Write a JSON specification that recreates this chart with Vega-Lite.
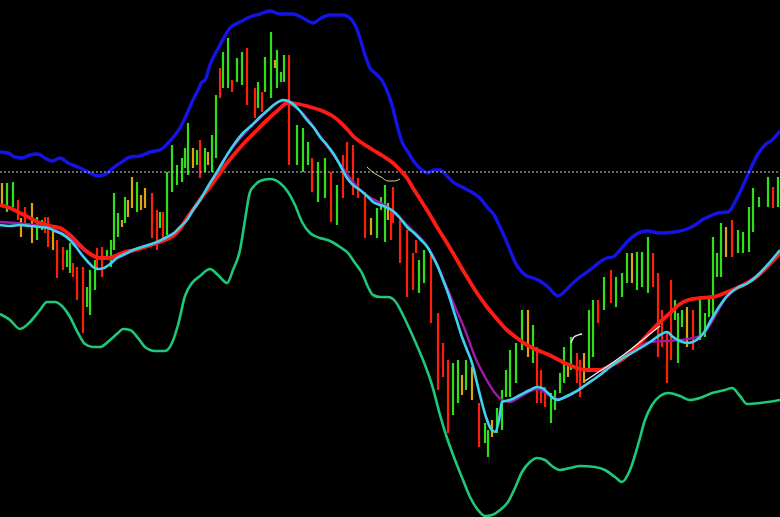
{
 "$schema": "https://vega.github.io/schema/vega-lite/v6.json",
 "width": 780, "height": 517,
 "autosize": {"type": "none"},
 "padding": 0,
 "background": "#000000",
 "config": {"view": {"stroke": null}},
 "datasets": {
  "bars": [
   {"x":2,"hi":183,"lo":207,"c":"o"},{"x":7,"hi":183,"lo":212,"c":"g"},{"x":13,"hi":182,"lo":207,"c":"g"},{"x":18,"hi":200,"lo":220,"c":"r"},
   {"x":21,"hi":218,"lo":237,"c":"o"},{"x":25,"hi":207,"lo":223,"c":"r"},{"x":32,"hi":203,"lo":243,"c":"o"},{"x":37,"hi":217,"lo":240,"c":"g"},
   {"x":42,"hi":220,"lo":230,"c":"g"},{"x":45,"hi":217,"lo":233,"c":"r"},{"x":48,"hi":217,"lo":247,"c":"r"},{"x":53,"hi":227,"lo":250,"c":"o"},
   {"x":57,"hi":240,"lo":278,"c":"r"},{"x":63,"hi":247,"lo":270,"c":"r"},{"x":67,"hi":250,"lo":267,"c":"g"},{"x":70,"hi":243,"lo":273,"c":"g"},
   {"x":73,"hi":263,"lo":277,"c":"r"},{"x":77,"hi":267,"lo":300,"c":"r"},{"x":83,"hi":267,"lo":333,"c":"r"},{"x":87,"hi":287,"lo":307,"c":"g"},
   {"x":90,"hi":270,"lo":315,"c":"g"},{"x":95,"hi":260,"lo":290,"c":"g"},{"x":97,"hi":248,"lo":270,"c":"r"},{"x":102,"hi":247,"lo":277,"c":"r"},
   {"x":107,"hi":250,"lo":257,"c":"g"},{"x":111,"hi":240,"lo":267,"c":"g"},{"x":114,"hi":193,"lo":250,"c":"g"},{"x":118,"hi":213,"lo":237,"c":"g"},
   {"x":122,"hi":220,"lo":227,"c":"o"},{"x":125,"hi":197,"lo":223,"c":"g"},{"x":128,"hi":200,"lo":217,"c":"o"},{"x":132,"hi":177,"lo":208,"c":"o"},
   {"x":137,"hi":182,"lo":212,"c":"g"},{"x":141,"hi":195,"lo":210,"c":"o"},{"x":145,"hi":188,"lo":208,"c":"o"},{"x":152,"hi":193,"lo":238,"c":"r"},
   {"x":157,"hi":210,"lo":250,"c":"r"},{"x":160,"hi":212,"lo":228,"c":"g"},{"x":163,"hi":212,"lo":238,"c":"r"},{"x":167,"hi":172,"lo":235,"c":"g"},
   {"x":172,"hi":145,"lo":192,"c":"g"},{"x":177,"hi":165,"lo":185,"c":"g"},{"x":182,"hi":158,"lo":182,"c":"g"},{"x":185,"hi":148,"lo":168,"c":"g"},
   {"x":188,"hi":123,"lo":175,"c":"g"},{"x":193,"hi":148,"lo":168,"c":"o"},{"x":197,"hi":150,"lo":165,"c":"g"},{"x":200,"hi":140,"lo":178,"c":"r"},
   {"x":205,"hi":148,"lo":172,"c":"g"},{"x":208,"hi":152,"lo":165,"c":"o"},{"x":212,"hi":135,"lo":172,"c":"g"},{"x":216,"hi":95,"lo":158,"c":"g"},
   {"x":220,"hi":68,"lo":98,"c":"r"},{"x":223,"hi":52,"lo":88,"c":"g"},{"x":228,"hi":38,"lo":88,"c":"g"},{"x":232,"hi":80,"lo":92,"c":"r"},
   {"x":237,"hi":58,"lo":82,"c":"g"},{"x":242,"hi":52,"lo":85,"c":"g"},{"x":247,"hi":48,"lo":105,"c":"r"},{"x":255,"hi":88,"lo":118,"c":"r"},
   {"x":258,"hi":82,"lo":108,"c":"g"},{"x":262,"hi":92,"lo":112,"c":"r"},{"x":265,"hi":57,"lo":92,"c":"g"},{"x":271,"hi":32,"lo":98,"c":"g"},
   {"x":275,"hi":60,"lo":68,"c":"o"},{"x":277,"hi":50,"lo":88,"c":"g"},{"x":281,"hi":72,"lo":82,"c":"g"},{"x":284,"hi":55,"lo":82,"c":"g"},
   {"x":289,"hi":55,"lo":165,"c":"r"},{"x":297,"hi":125,"lo":165,"c":"g"},{"x":303,"hi":128,"lo":172,"c":"g"},{"x":308,"hi":142,"lo":165,"c":"g"},
   {"x":312,"hi":158,"lo":192,"c":"r"},{"x":318,"hi":162,"lo":202,"c":"g"},{"x":325,"hi":158,"lo":198,"c":"g"},{"x":331,"hi":172,"lo":222,"c":"r"},
   {"x":337,"hi":185,"lo":225,"c":"g"},{"x":343,"hi":155,"lo":198,"c":"r"},{"x":347,"hi":142,"lo":172,"c":"r"},{"x":353,"hi":145,"lo":195,"c":"r"},
   {"x":358,"hi":178,"lo":198,"c":"r"},{"x":365,"hi":192,"lo":238,"c":"r"},{"x":371,"hi":218,"lo":235,"c":"o"},{"x":377,"hi":208,"lo":238,"c":"g"},
   {"x":381,"hi":197,"lo":210,"c":"g"},{"x":385,"hi":185,"lo":242,"c":"g"},{"x":388,"hi":203,"lo":220,"c":"o"},{"x":391,"hi":210,"lo":240,"c":"r"},
   {"x":393,"hi":187,"lo":223,"c":"r"},{"x":400,"hi":220,"lo":263,"c":"r"},{"x":407,"hi":230,"lo":297,"c":"r"},{"x":413,"hi":253,"lo":290,"c":"r"},
   {"x":416,"hi":240,"lo":253,"c":"r"},{"x":419,"hi":260,"lo":293,"c":"g"},{"x":424,"hi":250,"lo":283,"c":"g"},{"x":431,"hi":253,"lo":323,"c":"r"},
   {"x":438,"hi":313,"lo":390,"c":"r"},{"x":443,"hi":343,"lo":377,"c":"r"},{"x":448,"hi":360,"lo":433,"c":"r"},{"x":453,"hi":363,"lo":415,"c":"g"},
   {"x":458,"hi":360,"lo":403,"c":"g"},{"x":462,"hi":375,"lo":395,"c":"o"},{"x":466,"hi":360,"lo":390,"c":"g"},{"x":472,"hi":367,"lo":400,"c":"o"},
   {"x":479,"hi":403,"lo":447,"c":"r"},{"x":485,"hi":423,"lo":443,"c":"g"},{"x":488,"hi":430,"lo":457,"c":"g"},{"x":492,"hi":420,"lo":437,"c":"o"},
   {"x":497,"hi":408,"lo":433,"c":"g"},{"x":502,"hi":390,"lo":430,"c":"g"},{"x":506,"hi":370,"lo":397,"c":"g"},{"x":510,"hi":350,"lo":397,"c":"g"},
   {"x":516,"hi":343,"lo":383,"c":"g"},{"x":522,"hi":310,"lo":350,"c":"g"},{"x":528,"hi":310,"lo":357,"c":"o"},{"x":533,"hi":325,"lo":363,"c":"g"},
   {"x":537,"hi":347,"lo":403,"c":"r"},{"x":541,"hi":370,"lo":403,"c":"r"},{"x":545,"hi":387,"lo":407,"c":"r"},{"x":551,"hi":393,"lo":423,"c":"g"},
   {"x":555,"hi":390,"lo":410,"c":"g"},{"x":560,"hi":373,"lo":393,"c":"g"},{"x":564,"hi":347,"lo":383,"c":"g"},{"x":568,"hi":363,"lo":377,"c":"o"},
   {"x":571,"hi":337,"lo":370,"c":"g"},{"x":577,"hi":353,"lo":383,"c":"r"},{"x":580,"hi":360,"lo":397,"c":"r"},{"x":584,"hi":353,"lo":383,"c":"o"},
   {"x":589,"hi":310,"lo":370,"c":"g"},{"x":593,"hi":300,"lo":357,"c":"g"},{"x":598,"hi":300,"lo":323,"c":"r"},{"x":604,"hi":277,"lo":310,"c":"g"},
   {"x":611,"hi":270,"lo":303,"c":"r"},{"x":616,"hi":277,"lo":307,"c":"g"},{"x":622,"hi":273,"lo":297,"c":"g"},{"x":627,"hi":253,"lo":283,"c":"g"},
   {"x":632,"hi":253,"lo":283,"c":"o"},{"x":637,"hi":252,"lo":290,"c":"g"},{"x":642,"hi":252,"lo":287,"c":"g"},{"x":648,"hi":237,"lo":293,"c":"g"},
   {"x":653,"hi":253,"lo":287,"c":"r"},{"x":658,"hi":273,"lo":357,"c":"r"},{"x":662,"hi":310,"lo":347,"c":"r"},{"x":667,"hi":333,"lo":383,"c":"r"},
   {"x":671,"hi":280,"lo":360,"c":"r"},{"x":675,"hi":300,"lo":320,"c":"g"},{"x":678,"hi":313,"lo":363,"c":"g"},{"x":682,"hi":310,"lo":327,"c":"g"},
   {"x":687,"hi":307,"lo":347,"c":"o"},{"x":693,"hi":310,"lo":350,"c":"r"},{"x":700,"hi":297,"lo":340,"c":"g"},{"x":705,"hi":313,"lo":337,"c":"g"},
   {"x":709,"hi":297,"lo":317,"c":"g"},{"x":713,"hi":237,"lo":320,"c":"g"},{"x":717,"hi":253,"lo":277,"c":"g"},{"x":721,"hi":223,"lo":277,"c":"g"},
   {"x":726,"hi":227,"lo":257,"c":"o"},{"x":732,"hi":220,"lo":257,"c":"r"},{"x":738,"hi":230,"lo":253,"c":"g"},{"x":743,"hi":232,"lo":253,"c":"g"},
   {"x":749,"hi":207,"lo":252,"c":"g"},{"x":753,"hi":188,"lo":232,"c":"g"},{"x":759,"hi":197,"lo":207,"c":"g"},{"x":768,"hi":177,"lo":207,"c":"g"},
   {"x":773,"hi":187,"lo":208,"c":"r"},{"x":778,"hi":177,"lo":207,"c":"g"}
  ],
  "lines": [
   {"s":"upper","x":0,"y":152},{"s":"upper","x":8,"y":153},{"s":"upper","x":15,"y":157},{"s":"upper","x":22,"y":158},{"s":"upper","x":30,"y":155},{"s":"upper","x":38,"y":154},{"s":"upper","x":45,"y":158},{"s":"upper","x":52,"y":161},{"s":"upper","x":60,"y":158},{"s":"upper","x":68,"y":163},{"s":"upper","x":78,"y":167},{"s":"upper","x":88,"y":172},{"s":"upper","x":98,"y":176},{"s":"upper","x":106,"y":174},{"s":"upper","x":113,"y":168},{"s":"upper","x":122,"y":162},{"s":"upper","x":130,"y":157},{"s":"upper","x":140,"y":156},{"s":"upper","x":150,"y":152},{"s":"upper","x":160,"y":150},{"s":"upper","x":168,"y":143},{"s":"upper","x":175,"y":135},{"s":"upper","x":180,"y":128},{"s":"upper","x":185,"y":118},{"s":"upper","x":193,"y":100},{"s":"upper","x":198,"y":90},{"s":"upper","x":202,"y":82},{"s":"upper","x":205,"y":80},{"s":"upper","x":210,"y":65},{"s":"upper","x":220,"y":45},{"s":"upper","x":230,"y":28},{"s":"upper","x":240,"y":22},{"s":"upper","x":250,"y":17},{"s":"upper","x":260,"y":14},{"s":"upper","x":270,"y":11},{"s":"upper","x":280,"y":14},{"s":"upper","x":293,"y":14},{"s":"upper","x":303,"y":18},{"s":"upper","x":313,"y":23},{"s":"upper","x":323,"y":17},{"s":"upper","x":330,"y":15},{"s":"upper","x":343,"y":15},{"s":"upper","x":350,"y":18},{"s":"upper","x":355,"y":25},{"s":"upper","x":360,"y":38},{"s":"upper","x":365,"y":55},{"s":"upper","x":370,"y":68},{"s":"upper","x":375,"y":73},{"s":"upper","x":383,"y":82},{"s":"upper","x":388,"y":93},{"s":"upper","x":392,"y":105},{"s":"upper","x":397,"y":125},{"s":"upper","x":402,"y":142},{"s":"upper","x":408,"y":152},{"s":"upper","x":415,"y":163},{"s":"upper","x":422,"y":170},{"s":"upper","x":428,"y":173},{"s":"upper","x":434,"y":170},{"s":"upper","x":440,"y":170},{"s":"upper","x":447,"y":176},{"s":"upper","x":453,"y":182},{"s":"upper","x":462,"y":187},{"s":"upper","x":473,"y":193},{"s":"upper","x":480,"y":198},{"s":"upper","x":487,"y":207},{"s":"upper","x":494,"y":215},{"s":"upper","x":500,"y":227},{"s":"upper","x":505,"y":238},{"s":"upper","x":510,"y":250},{"s":"upper","x":515,"y":262},{"s":"upper","x":520,"y":270},{"s":"upper","x":527,"y":276},{"s":"upper","x":533,"y":278},{"s":"upper","x":540,"y":281},{"s":"upper","x":548,"y":287},{"s":"upper","x":558,"y":296},{"s":"upper","x":565,"y":291},{"s":"upper","x":572,"y":284},{"s":"upper","x":580,"y":277},{"s":"upper","x":590,"y":270},{"s":"upper","x":600,"y":262},{"s":"upper","x":607,"y":258},{"s":"upper","x":613,"y":257},{"s":"upper","x":620,"y":250},{"s":"upper","x":627,"y":242},{"s":"upper","x":635,"y":235},{"s":"upper","x":647,"y":231},{"s":"upper","x":660,"y":233},{"s":"upper","x":675,"y":232},{"s":"upper","x":687,"y":229},{"s":"upper","x":695,"y":225},{"s":"upper","x":702,"y":220},{"s":"upper","x":710,"y":216},{"s":"upper","x":718,"y":213},{"s":"upper","x":728,"y":212},{"s":"upper","x":735,"y":202},{"s":"upper","x":742,"y":188},{"s":"upper","x":750,"y":170},{"s":"upper","x":758,"y":154},{"s":"upper","x":765,"y":145},{"s":"upper","x":772,"y":140},{"s":"upper","x":780,"y":131},
   {"s":"lower","x":0,"y":314},{"s":"lower","x":10,"y":320},{"s":"lower","x":20,"y":329},{"s":"lower","x":30,"y":322},{"s":"lower","x":40,"y":310},{"s":"lower","x":47,"y":302},{"s":"lower","x":55,"y":302},{"s":"lower","x":62,"y":306},{"s":"lower","x":70,"y":317},{"s":"lower","x":78,"y":333},{"s":"lower","x":85,"y":344},{"s":"lower","x":93,"y":347},{"s":"lower","x":100,"y":347},{"s":"lower","x":110,"y":340},{"s":"lower","x":118,"y":333},{"s":"lower","x":123,"y":329},{"s":"lower","x":130,"y":330},{"s":"lower","x":138,"y":338},{"s":"lower","x":145,"y":347},{"s":"lower","x":155,"y":351},{"s":"lower","x":165,"y":351},{"s":"lower","x":172,"y":343},{"s":"lower","x":178,"y":325},{"s":"lower","x":185,"y":296},{"s":"lower","x":192,"y":283},{"s":"lower","x":200,"y":276},{"s":"lower","x":210,"y":269},{"s":"lower","x":218,"y":275},{"s":"lower","x":227,"y":283},{"s":"lower","x":233,"y":270},{"s":"lower","x":240,"y":250},{"s":"lower","x":245,"y":220},{"s":"lower","x":250,"y":192},{"s":"lower","x":255,"y":185},{"s":"lower","x":260,"y":181},{"s":"lower","x":270,"y":179},{"s":"lower","x":280,"y":183},{"s":"lower","x":288,"y":192},{"s":"lower","x":295,"y":205},{"s":"lower","x":302,"y":222},{"s":"lower","x":310,"y":233},{"s":"lower","x":320,"y":238},{"s":"lower","x":330,"y":241},{"s":"lower","x":340,"y":247},{"s":"lower","x":348,"y":253},{"s":"lower","x":355,"y":263},{"s":"lower","x":362,"y":273},{"s":"lower","x":368,"y":287},{"s":"lower","x":373,"y":295},{"s":"lower","x":380,"y":297},{"s":"lower","x":388,"y":297},{"s":"lower","x":395,"y":301},{"s":"lower","x":403,"y":315},{"s":"lower","x":410,"y":330},{"s":"lower","x":418,"y":348},{"s":"lower","x":425,"y":365},{"s":"lower","x":432,"y":385},{"s":"lower","x":440,"y":415},{"s":"lower","x":447,"y":438},{"s":"lower","x":455,"y":460},{"s":"lower","x":463,"y":480},{"s":"lower","x":470,"y":497},{"s":"lower","x":478,"y":510},{"s":"lower","x":485,"y":516},{"s":"lower","x":492,"y":515},{"s":"lower","x":500,"y":510},{"s":"lower","x":508,"y":502},{"s":"lower","x":515,"y":488},{"s":"lower","x":522,"y":472},{"s":"lower","x":530,"y":462},{"s":"lower","x":537,"y":458},{"s":"lower","x":545,"y":460},{"s":"lower","x":552,"y":466},{"s":"lower","x":560,"y":470},{"s":"lower","x":570,"y":468},{"s":"lower","x":580,"y":466},{"s":"lower","x":595,"y":467},{"s":"lower","x":605,"y":470},{"s":"lower","x":615,"y":477},{"s":"lower","x":622,"y":482},{"s":"lower","x":630,"y":470},{"s":"lower","x":638,"y":445},{"s":"lower","x":645,"y":420},{"s":"lower","x":652,"y":405},{"s":"lower","x":660,"y":396},{"s":"lower","x":668,"y":393},{"s":"lower","x":680,"y":396},{"s":"lower","x":690,"y":400},{"s":"lower","x":700,"y":398},{"s":"lower","x":712,"y":393},{"s":"lower","x":725,"y":390},{"s":"lower","x":732,"y":388},{"s":"lower","x":740,"y":396},{"s":"lower","x":747,"y":404},{"s":"lower","x":760,"y":403},{"s":"lower","x":780,"y":400},
   {"s":"slow","x":0,"y":205},{"s":"slow","x":10,"y":208},{"s":"slow","x":20,"y":213},{"s":"slow","x":30,"y":218},{"s":"slow","x":40,"y":223},{"s":"slow","x":50,"y":226},{"s":"slow","x":60,"y":228},{"s":"slow","x":70,"y":235},{"s":"slow","x":77,"y":242},{"s":"slow","x":85,"y":250},{"s":"slow","x":92,"y":255},{"s":"slow","x":100,"y":258},{"s":"slow","x":108,"y":258},{"s":"slow","x":115,"y":256},{"s":"slow","x":125,"y":252},{"s":"slow","x":135,"y":250},{"s":"slow","x":145,"y":247},{"s":"slow","x":157,"y":243},{"s":"slow","x":165,"y":240},{"s":"slow","x":173,"y":236},{"s":"slow","x":180,"y":229},{"s":"slow","x":187,"y":218},{"s":"slow","x":195,"y":207},{"s":"slow","x":202,"y":197},{"s":"slow","x":210,"y":187},{"s":"slow","x":218,"y":176},{"s":"slow","x":227,"y":163},{"s":"slow","x":237,"y":151},{"s":"slow","x":247,"y":140},{"s":"slow","x":257,"y":130},{"s":"slow","x":267,"y":120},{"s":"slow","x":277,"y":111},{"s":"slow","x":288,"y":103},{"s":"slow","x":298,"y":104},{"s":"slow","x":310,"y":107},{"s":"slow","x":320,"y":110},{"s":"slow","x":327,"y":113},{"s":"slow","x":334,"y":117},{"s":"slow","x":340,"y":122},{"s":"slow","x":347,"y":129},{"s":"slow","x":353,"y":136},{"s":"slow","x":362,"y":143},{"s":"slow","x":373,"y":150},{"s":"slow","x":383,"y":156},{"s":"slow","x":393,"y":163},{"s":"slow","x":400,"y":170},{"s":"slow","x":407,"y":178},{"s":"slow","x":413,"y":188},{"s":"slow","x":420,"y":199},{"s":"slow","x":427,"y":210},{"s":"slow","x":437,"y":227},{"s":"slow","x":447,"y":243},{"s":"slow","x":457,"y":260},{"s":"slow","x":467,"y":277},{"s":"slow","x":477,"y":293},{"s":"slow","x":487,"y":307},{"s":"slow","x":497,"y":319},{"s":"slow","x":507,"y":330},{"s":"slow","x":517,"y":338},{"s":"slow","x":527,"y":345},{"s":"slow","x":537,"y":350},{"s":"slow","x":547,"y":354},{"s":"slow","x":557,"y":359},{"s":"slow","x":567,"y":364},{"s":"slow","x":577,"y":368},{"s":"slow","x":587,"y":370},{"s":"slow","x":600,"y":370},{"s":"slow","x":610,"y":366},{"s":"slow","x":620,"y":361},{"s":"slow","x":630,"y":353},{"s":"slow","x":640,"y":343},{"s":"slow","x":650,"y":332},{"s":"slow","x":660,"y":322},{"s":"slow","x":670,"y":313},{"s":"slow","x":680,"y":304},{"s":"slow","x":688,"y":300},{"s":"slow","x":700,"y":298},{"s":"slow","x":713,"y":297},{"s":"slow","x":727,"y":292},{"s":"slow","x":737,"y":288},{"s":"slow","x":747,"y":283},{"s":"slow","x":755,"y":278},{"s":"slow","x":763,"y":271},{"s":"slow","x":772,"y":262},{"s":"slow","x":780,"y":253},
   {"s":"fast","x":0,"y":225},{"s":"fast","x":10,"y":226},{"s":"fast","x":20,"y":225},{"s":"fast","x":30,"y":226},{"s":"fast","x":40,"y":227},{"s":"fast","x":48,"y":228},{"s":"fast","x":55,"y":231},{"s":"fast","x":62,"y":234},{"s":"fast","x":70,"y":240},{"s":"fast","x":76,"y":247},{"s":"fast","x":82,"y":255},{"s":"fast","x":88,"y":262},{"s":"fast","x":93,"y":267},{"s":"fast","x":98,"y":269},{"s":"fast","x":104,"y":268},{"s":"fast","x":110,"y":264},{"s":"fast","x":117,"y":258},{"s":"fast","x":125,"y":254},{"s":"fast","x":133,"y":250},{"s":"fast","x":145,"y":246},{"s":"fast","x":157,"y":242},{"s":"fast","x":167,"y":237},{"s":"fast","x":174,"y":233},{"s":"fast","x":180,"y":227},{"s":"fast","x":187,"y":220},{"s":"fast","x":193,"y":210},{"s":"fast","x":200,"y":200},{"s":"fast","x":210,"y":183},{"s":"fast","x":217,"y":172},{"s":"fast","x":227,"y":155},{"s":"fast","x":235,"y":143},{"s":"fast","x":243,"y":133},{"s":"fast","x":252,"y":125},{"s":"fast","x":260,"y":117},{"s":"fast","x":268,"y":110},{"s":"fast","x":275,"y":104},{"s":"fast","x":283,"y":100},{"s":"fast","x":288,"y":101},{"s":"fast","x":293,"y":104},{"s":"fast","x":300,"y":111},{"s":"fast","x":307,"y":120},{"s":"fast","x":314,"y":128},{"s":"fast","x":320,"y":137},{"s":"fast","x":327,"y":145},{"s":"fast","x":333,"y":153},{"s":"fast","x":340,"y":165},{"s":"fast","x":347,"y":178},{"s":"fast","x":353,"y":185},{"s":"fast","x":360,"y":190},{"s":"fast","x":367,"y":196},{"s":"fast","x":373,"y":202},{"s":"fast","x":380,"y":205},{"s":"fast","x":388,"y":208},{"s":"fast","x":393,"y":211},{"s":"fast","x":400,"y":218},{"s":"fast","x":407,"y":227},{"s":"fast","x":414,"y":233},{"s":"fast","x":420,"y":239},{"s":"fast","x":428,"y":248},{"s":"fast","x":433,"y":257},{"s":"fast","x":438,"y":267},{"s":"fast","x":443,"y":280},{"s":"fast","x":448,"y":293},{"s":"fast","x":455,"y":315},{"s":"fast","x":462,"y":337},{"s":"fast","x":467,"y":350},{"s":"fast","x":472,"y":363},{"s":"fast","x":478,"y":387},{"s":"fast","x":482,"y":403},{"s":"fast","x":486,"y":417},{"s":"fast","x":491,"y":429},{"s":"fast","x":495,"y":432},{"s":"fast","x":499,"y":420},{"s":"fast","x":502,"y":402},{"s":"fast","x":510,"y":400},{"s":"fast","x":520,"y":395},{"s":"fast","x":530,"y":390},{"s":"fast","x":537,"y":387},{"s":"fast","x":542,"y":388},{"s":"fast","x":548,"y":393},{"s":"fast","x":553,"y":398},{"s":"fast","x":558,"y":400},{"s":"fast","x":565,"y":397},{"s":"fast","x":575,"y":392},{"s":"fast","x":587,"y":384},{"s":"fast","x":600,"y":375},{"s":"fast","x":610,"y":367},{"s":"fast","x":623,"y":358},{"s":"fast","x":637,"y":350},{"s":"fast","x":650,"y":342},{"s":"fast","x":660,"y":335},{"s":"fast","x":667,"y":332},{"s":"fast","x":673,"y":337},{"s":"fast","x":680,"y":341},{"s":"fast","x":687,"y":343},{"s":"fast","x":693,"y":342},{"s":"fast","x":700,"y":337},{"s":"fast","x":705,"y":331},{"s":"fast","x":710,"y":322},{"s":"fast","x":717,"y":310},{"s":"fast","x":727,"y":296},{"s":"fast","x":737,"y":288},{"s":"fast","x":748,"y":283},{"s":"fast","x":760,"y":273},{"s":"fast","x":770,"y":262},{"s":"fast","x":780,"y":250},
   {"s":"mid","x":0,"y":222},{"s":"mid","x":40,"y":226},{"s":"mid","x":60,"y":232},{"s":"mid","x":75,"y":243},{"s":"mid","x":85,"y":251},{"s":"mid","x":97,"y":258},{"s":"mid","x":110,"y":259},{"s":"mid","x":133,"y":251},{"s":"mid","x":160,"y":241},{"s":"mid","x":180,"y":228},{"s":"mid","x":200,"y":200},{"s":"mid","x":230,"y":151},{"s":"mid","x":260,"y":118},{"s":"mid","x":283,"y":101},{"s":"mid","x":300,"y":111},{"s":"mid","x":330,"y":150},{"s":"mid","x":360,"y":190},{"s":"mid","x":390,"y":209},{"s":"mid","x":410,"y":228},{"s":"mid","x":427,"y":246},{"s":"mid","x":435,"y":260},{"s":"mid","x":445,"y":283},{"s":"mid","x":455,"y":307},{"s":"mid","x":465,"y":330},{"s":"mid","x":475,"y":357},{"s":"mid","x":485,"y":377},{"s":"mid","x":495,"y":393},{"s":"mid","x":502,"y":400},{"s":"mid","x":510,"y":402},{"s":"mid","x":520,"y":397},{"s":"mid","x":537,"y":389},{"s":"mid","x":558,"y":399},{"s":"mid","x":587,"y":384},{"s":"mid","x":620,"y":360},{"s":"mid","x":650,"y":342},{"s":"mid","x":680,"y":340},{"s":"mid","x":700,"y":336},{"s":"mid","x":727,"y":297},{"s":"mid","x":760,"y":273},{"s":"mid","x":780,"y":251},
   {"s":"signal","x":585,"y":381},{"s":"signal","x":600,"y":371},{"s":"signal","x":615,"y":361},{"s":"signal","x":630,"y":350},{"s":"signal","x":645,"y":338},{"s":"signal","x":660,"y":326},
   {"s":"hookA","x":367,"y":167},{"s":"hookA","x":374,"y":173},{"s":"hookA","x":381,"y":177},{"s":"hookA","x":388,"y":181},{"s":"hookA","x":394,"y":181},{"s":"hookA","x":400,"y":179},
   {"s":"hookB","x":571,"y":343},{"s":"hookB","x":574,"y":337},{"s":"hookB","x":578,"y":335},{"s":"hookB","x":582,"y":334}
  ]
 },
 "encoding": {
  "x": {"field": "x", "type": "quantitative", "scale": {"domain": [0, 780], "nice": false, "zero": false}, "axis": null}
 },
 "layer": [
  {"data": {"name": "lines"}, "transform": [{"filter": "datum.s === 'lower'"}],
   "mark": {"type": "line", "color": "#1ec878", "strokeWidth": 2.6, "interpolate": "monotone"},
   "encoding": {"y": {"field": "y", "type": "quantitative", "scale": {"domain": [0, 517], "reverse": true, "nice": false, "zero": false}, "axis": null}}},
  {"data": {"name": "lines"}, "transform": [{"filter": "datum.s === 'upper'"}],
   "mark": {"type": "line", "color": "#1414e6", "strokeWidth": 3.4, "interpolate": "monotone"},
   "encoding": {"y": {"field": "y", "type": "quantitative"}}},
  {"data": {"name": "bars"},
   "mark": {"type": "rule", "strokeWidth": 2.2},
   "encoding": {
    "y": {"field": "hi", "type": "quantitative"},
    "y2": {"field": "lo"},
    "color": {"field": "c", "type": "nominal", "scale": {"domain": ["g", "r", "o"], "range": ["#2ee01a", "#ff1e0a", "#e0a010"]}, "legend": null}
   }},
  {"data": {"values": [{"level": 172}]},
   "mark": {"type": "rule", "color": "#d0d0d0", "strokeWidth": 1, "strokeDash": [2, 2]},
   "encoding": {"x": {"value": 0}, "x2": {"value": 780}, "y": {"field": "level", "type": "quantitative"}}},
  {"data": {"name": "lines"}, "transform": [{"filter": "datum.s === 'mid'"}],
   "mark": {"type": "line", "color": "#a01aa8", "strokeWidth": 2.4, "interpolate": "monotone"},
   "encoding": {"y": {"field": "y", "type": "quantitative"}}},
  {"data": {"name": "lines"}, "transform": [{"filter": "datum.s === 'slow'"}],
   "mark": {"type": "line", "color": "#ff1a14", "strokeWidth": 3.8, "interpolate": "monotone"},
   "encoding": {"y": {"field": "y", "type": "quantitative"}}},
  {"data": {"name": "lines"}, "transform": [{"filter": "datum.s === 'fast'"}],
   "mark": {"type": "line", "color": "#3cd2f0", "strokeWidth": 2.6, "interpolate": "monotone"},
   "encoding": {"y": {"field": "y", "type": "quantitative"}}},
  {"data": {"name": "lines"}, "transform": [{"filter": "datum.s === 'signal' || datum.s === 'hookB'"}],
   "mark": {"type": "line", "color": "#f0f0f0", "strokeWidth": 1.3, "interpolate": "monotone"},
   "encoding": {"y": {"field": "y", "type": "quantitative"}, "detail": {"field": "s"}}},
  {"data": {"name": "lines"}, "transform": [{"filter": "datum.s === 'hookA'"}],
   "mark": {"type": "line", "color": "#d8d890", "strokeWidth": 1, "interpolate": "monotone"},
   "encoding": {"y": {"field": "y", "type": "quantitative"}}}
 ]
}
